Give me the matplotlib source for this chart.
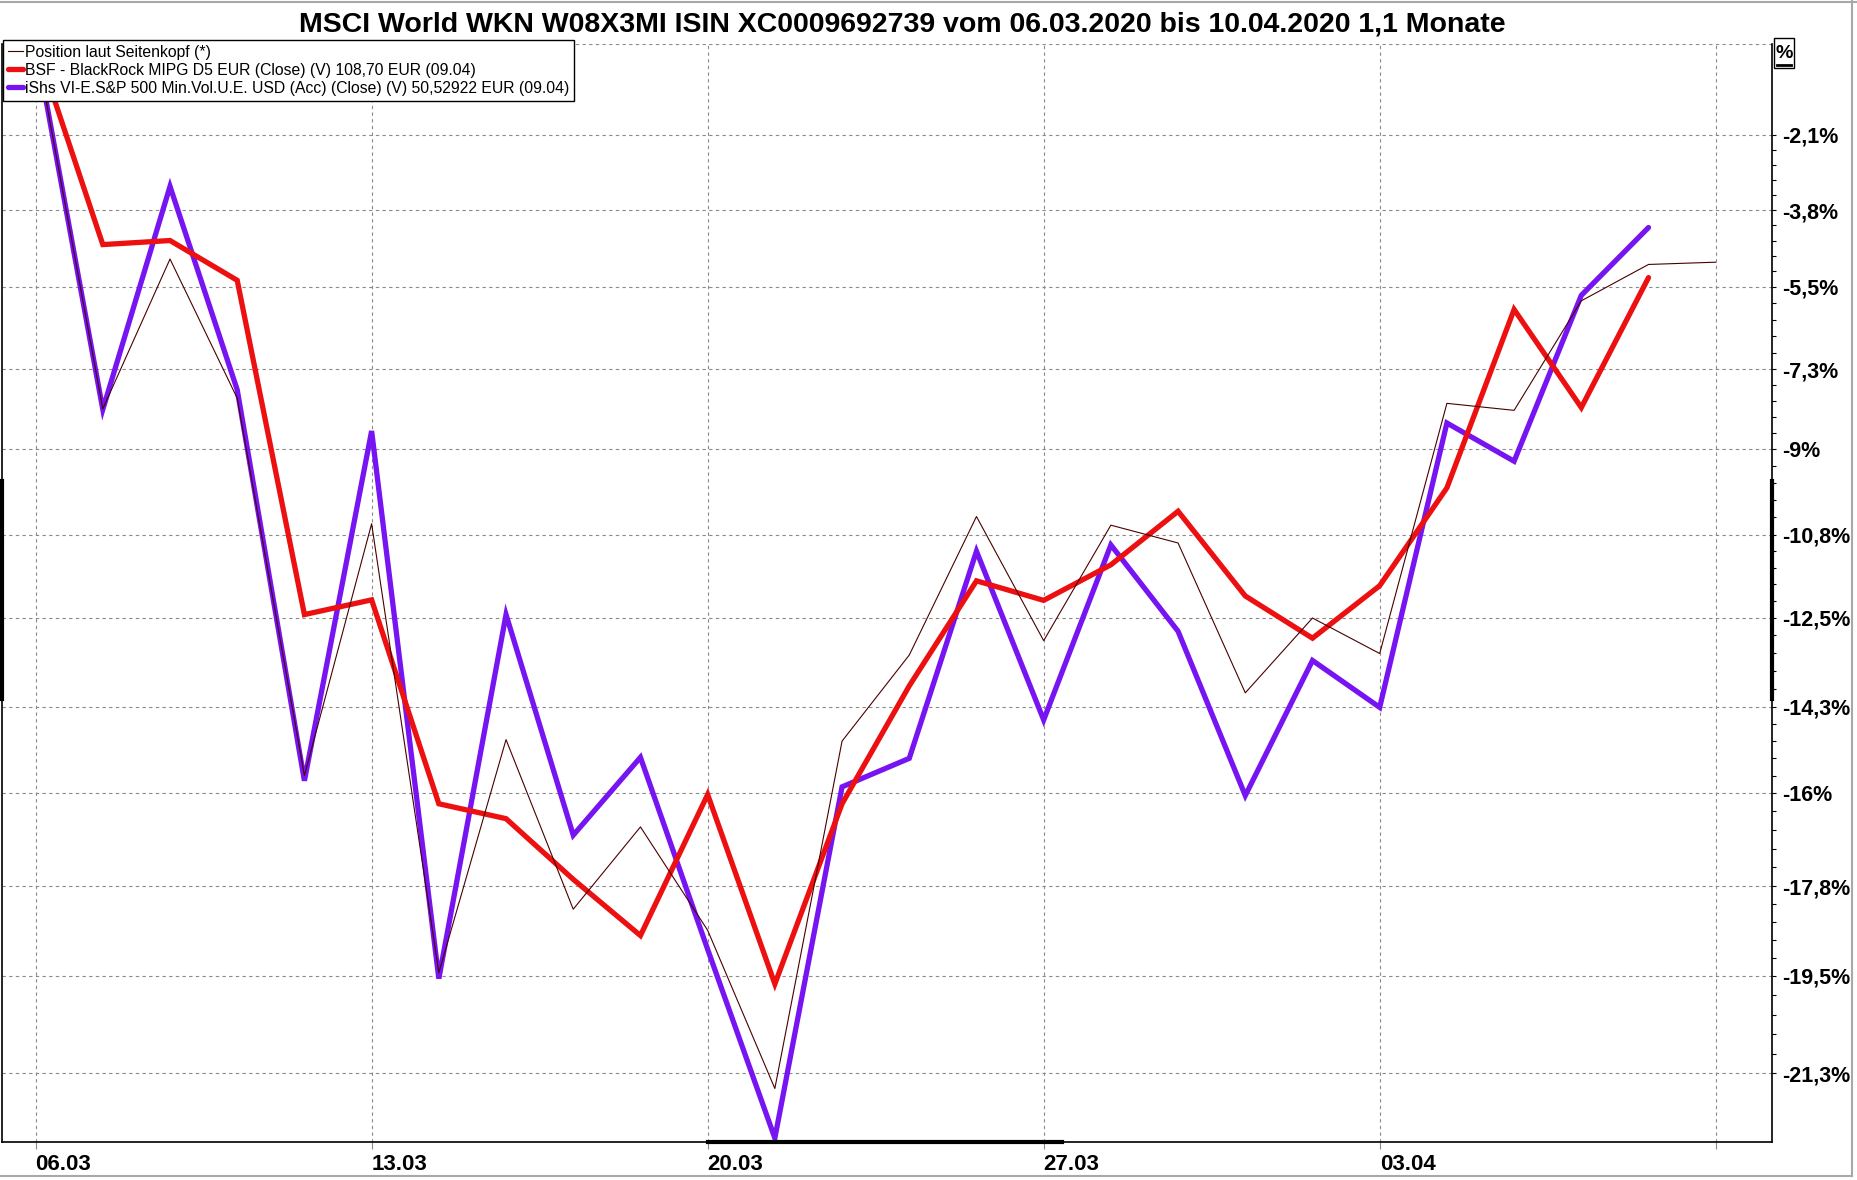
import numpy as np
import matplotlib
matplotlib.use("Agg")
import matplotlib.pyplot as plt
from matplotlib.lines import Line2D
from matplotlib.patches import Rectangle

plt.rcParams['font.family'] = ['Liberation Sans', 'DejaVu Sans']

# trading days shown on the x axis
days = ['06.03', '09.03', '10.03', '11.03', '12.03', '13.03', '16.03', '17.03',
        '18.03', '19.03', '20.03', '23.03', '24.03', '25.03', '26.03', '27.03',
        '30.03', '31.03', '01.04', '02.04', '03.04', '06.04', '07.04', '08.04',
        '09.04', '10.04']

# performance in % since 06.03.2020
position = [0, -8.15, -4.89, -7.92, -15.66, -10.57, -19.44, -14.95, -18.24,
            -16.66, -18.64, -21.58, -14.98, -13.26, -10.42, -12.97, -10.60,
            -10.97, -14.02, -12.51, -13.23, -8.03, -8.18, -5.81, -5.01, -4.96]
bsf = [0, -4.57, -4.48, -5.36, -12.44, -12.14, -16.21, -16.50, -17.67, -18.74,
       -16.03, -19.65, -16.21, -13.88, -11.75, -12.15, -11.42, -10.31, -12.06,
       -12.92, -11.85, -9.82, -6.00, -8.12, -5.30]
ishs = [0, -8.16, -3.27, -7.74, -15.76, -8.62, -19.55, -12.44, -16.82, -15.30,
        -19.00, -22.48, -15.88, -15.32, -11.14, -14.56, -11.01, -12.78, -16.05,
        -13.37, -14.31, -8.45, -9.26, -5.69, -4.19]

series_labels = ['Position laut Seitenkopf (*)',
                 'BSF - BlackRock MIPG D5 EUR (Close) (V) 108,70 EUR (09.04)',
                 'iShs VI-E.S&P 500 Min.Vol.U.E. USD (Acc) (Close) (V) 50,52922 EUR (09.04)']

y_ticks = [-2.1, -3.8, -5.5, -7.3, -9, -10.8, -12.5, -14.3, -16, -17.8, -19.5, -21.3]
x_tick_idx = [0, 5, 10, 15, 20, 25]
x_tick_labels = ['06.03', '13.03', '20.03', '27.03', '03.04', '']

title = ('MSCI World WKN W08X3MI ISIN XC0009692739 vom 06.03.2020 '
         'bis 10.04.2020 1,1 Monate')

W, H = 1857, 1180
fig = plt.figure(figsize=(W / 100, H / 100), dpi=100)
ax = fig.add_axes([2 / W, 1 - 1142 / H, 1769.5 / W, 1098.5 / H])

# log-style percent axis (price ratio)
ax.set_yscale('function', functions=(lambda v: np.log1p(np.asarray(v) / 100),
                                     lambda t: np.expm1(np.asarray(t)) * 100))

x_all = np.arange(len(days))
ax.plot(x_all[:len(ishs)], ishs, color='#7614f2', lw=3.8, solid_joinstyle='miter',
        solid_capstyle='round', label=series_labels[2], zorder=3)
ax.plot(x_all[:len(bsf)], bsf, color='#ec1010', lw=3.8, solid_joinstyle='miter',
        solid_capstyle='round', label=series_labels[1], zorder=4)
ax.plot(x_all, position, color='#4a0000', lw=0.8, label=series_labels[0], zorder=5)

ax.set_xlim(-0.5, 25.83)
ax.set_ylim(-22.55, 0.0)

# grid
grid_kw = dict(color='#8a8a8a', lw=0.8, dashes=(3, 3), zorder=1)
for v in y_ticks + [0.0]:
    ax.axhline(v, **grid_kw)
for i in x_tick_idx:
    ax.axvline(i, **grid_kw)

ax.yaxis.tick_right()
ax.set_yticks(y_ticks)
ax.set_yticklabels([f"{v:g}".replace('.', ',') + '%' for v in y_ticks],
                   fontsize=15.5, fontweight='bold')
minor = []
for a, b in zip(y_ticks[:-1], y_ticks[1:]):
    minor.extend(np.linspace(a, b, 6)[1:-1])
ax.set_yticks(minor, minor=True)
ax.tick_params(axis='y', which='major', length=3, width=0.8, pad=5)
ax.tick_params(axis='y', which='minor', length=3, width=0.8)

ax.set_xticks(x_tick_idx)
ax.set_xticklabels(x_tick_labels, fontsize=16, fontweight='bold', ha='left')
ax.tick_params(axis='x', length=5, width=0.8, color='#8a8a8a', pad=4)

ax.spines['top'].set_visible(False)
for s in ['left', 'right', 'bottom']:
    ax.spines[s].set_linewidth(1.2)
    ax.spines[s].set_color('black')

# thicker segments on the frame
ax.plot([0, 0], [0.4033, 0.6017], transform=ax.transAxes, color='black', lw=3,
        clip_on=False, zorder=6)
ax.plot([1, 1], [0.4033, 0.6017], transform=ax.transAxes, color='black', lw=3,
        clip_on=False, zorder=6)
ax.plot([10, 15.27], [-22.55, -22.55], color='black', lw=3, clip_on=False, zorder=6)

leg = ax.legend(handles=[ax.lines[2], ax.lines[1], ax.lines[0]],
                labels=series_labels, loc='upper left',
                bbox_to_anchor=(3 / W, 1 - 40 / H), bbox_transform=fig.transFigure,
                borderaxespad=0, borderpad=0.3, labelspacing=0.2,
                handlelength=1.0, handletextpad=0.1, fontsize=11.3,
                fancybox=False, framealpha=1, edgecolor='black')
leg.get_frame().set_linewidth(1.0)
leg.set_zorder(10)

fig.text(902 / W, 1 - 31 / H, title, ha='center', va='baseline',
         fontsize=20.5, fontweight='bold')

# "%" box top right
fig.patches.append(Rectangle((1774 / W, 1 - 68 / H), 20 / W, 30 / H,
                             transform=fig.transFigure, fill=False,
                             ec='black', lw=1))
fig.text(1784 / W, 1 - 54 / H, '%', ha='center', va='center', fontsize=14,
         fontweight='bold')
fig.lines.append(Line2D([1777 / W, 1791 / W], [1 - 65 / H, 1 - 65 / H],
                        transform=fig.transFigure, color='black', lw=2))

# window frame lines
frame_kw = dict(transform=fig.transFigure, color='#a8a8a8', lw=1.5)
fig.lines.append(Line2D([0, 1], [1 - 2 / H, 1 - 2 / H], **frame_kw))
fig.lines.append(Line2D([0, 1852 / W], [1 - 1176 / H, 1 - 1176 / H], **frame_kw))
fig.lines.append(Line2D([1852 / W, 1852 / W], [1 - 1176 / H, 1], **frame_kw))

fig.savefig('out.png', dpi=100)
